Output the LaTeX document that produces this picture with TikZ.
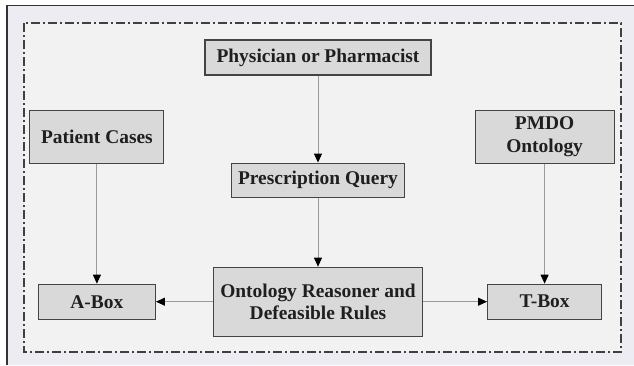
\documentclass[tikz,border=0pt]{standalone}
\usepackage{fontspec}
\setmainfont{Liberation Serif}
\usepackage{xcolor}
\usetikzlibrary{positioning,arrows.meta}
\definecolor{outerbg}{HTML}{EDECF2}
\definecolor{innerbg}{HTML}{F2F2F2}
\definecolor{boxfill}{HTML}{D9D9D9}
\definecolor{boxline}{HTML}{444444}
\definecolor{linkgray}{HTML}{9A9A9A}
\begin{document}
\begin{tikzpicture}[
  x=1bp, y=-1bp,
  box/.style={draw=boxline, line width=1.1bp, fill=boxfill, inner sep=0pt, align=center,
    text=black!88, font=\bfseries\fontsize{19.5}{22.5}\selectfont},
  arrow/.style={-{Triangle[length=9bp,width=8bp,color=black]}, draw=linkgray, line width=0.9bp},
  frame/.style={draw=black!75, line width=1.4bp, dash pattern=on 9bp off 3bp on 2bp off 3bp}
]
\useasboundingbox (0,0) rectangle (634,365);
\fill[outerbg] (7,5.5) rectangle (634,365);
\draw[black!80, line width=1.5bp] (7,365) -- (7,5.5) -- (634,5.5);
\draw[frame, fill=innerbg] (24,23) rectangle (621,352);

\node[box, minimum width=226bp, minimum height=35bp] (phys) at (318,57.5) {Physician or Pharmacist};
\node[box, minimum width=173bp, minimum height=34bp, below=87bp of phys] (query) {Prescription Query};
\node[box, minimum width=209bp, minimum height=69bp, below=69bp of query] (reason) {Ontology Reasoner and\\Defeasible Rules};
\node[box, minimum width=117bp, minimum height=35bp, left=57bp of reason] (abox) {A-Box};
\node[box, minimum width=114bp, minimum height=35bp, right=64bp of reason] (tbox) {T-Box};
\node[box, minimum width=134bp, minimum height=53bp, above=120bp of abox] (cases) {Patient Cases};
\node[box, minimum width=139bp, minimum height=53bp, above=120bp of tbox] (pmdo) {PMDO\\Ontology};

\draw[arrow] (phys) -- (query);
\draw[arrow] (query) -- (reason);
\draw[arrow] (cases) -- (abox);
\draw[arrow] (pmdo) -- (tbox);
\draw[arrow] (reason) -- (abox);
\draw[arrow] (reason) -- (tbox);
\end{tikzpicture}
\end{document}
